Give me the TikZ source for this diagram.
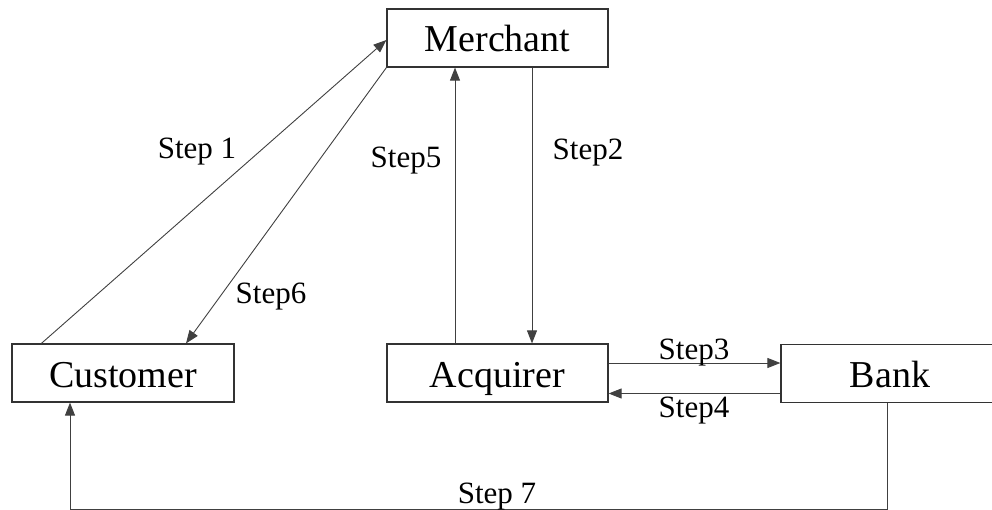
\documentclass[tikz,border=0pt]{standalone}
\usepackage{fontspec}
\setmainfont{Liberation Serif}
\usepackage{tikz}
\usetikzlibrary{arrows.meta,positioning,calc}

\begin{document}
\begin{tikzpicture}[x=1pt,y=-1pt]
\colorlet{box edge}{black!80}
\colorlet{link line}{black!75}
\tikzset{
     party/.style={draw=box edge, line width=1.2pt, minimum width=221pt, minimum height=58pt,
                   inner sep=0pt, text height=30pt, text depth=2pt, font=\fontsize{38}{40}\selectfont},
     link/.style={draw=link line, line width=0.9pt, -{Triangle[length=13pt,width=10pt]}},
     steplabel/.style={anchor=base, inner sep=0pt, font=\fontsize{31}{33}\selectfont}}

\useasboundingbox (0,0) rectangle (992,510);

% The boxes
\node (merchant) [party] at (497.5,38) {Merchant};
\node (acquirer) [party] at (497.5,373) {Acquirer};
\node (customer) [party, minimum width=222pt] at (123,373) {Customer};
\node (bank)     [party, minimum width=218pt] at (890,373.5) {Bank};

% The arrows
\draw [link] ([xshift=30pt]customer.north west) -- ([yshift=-2pt]merchant.west);
\draw [link] (merchant.south west) -- ([xshift=63pt]customer.north);
\draw [link] ([xshift=-42.5pt]acquirer.north) -- ([xshift=-42.5pt]merchant.south);
\draw [link] ([xshift=34.5pt]merchant.south) -- ([xshift=34.5pt]acquirer.north);
\draw [link] ([yshift=10pt]acquirer.east) -- ([yshift=10pt]acquirer.east -| bank.west);
\draw [link] ([yshift=-20pt]bank.west) -- ([yshift=-20pt]bank.west -| acquirer.east);
\draw [link] ([xshift=-3pt]bank.south) -- ++(0,106) -| ([xshift=-53pt]customer.south);

% The labels
\node (step1) [steplabel] at (197,159) {Step 1};
\node (step2) [steplabel] at (588,160) {Step2};
\node (step3) [steplabel] at (694,359) {Step3};
\node (step4) [steplabel] at (694,417) {Step4};
\node (step5) [steplabel] at (406,168) {Step5};
\node (step6) [steplabel] at (271,303) {Step6};
\node (step7) [steplabel] at (497,503) {Step 7};
\end{tikzpicture}
\end{document}
